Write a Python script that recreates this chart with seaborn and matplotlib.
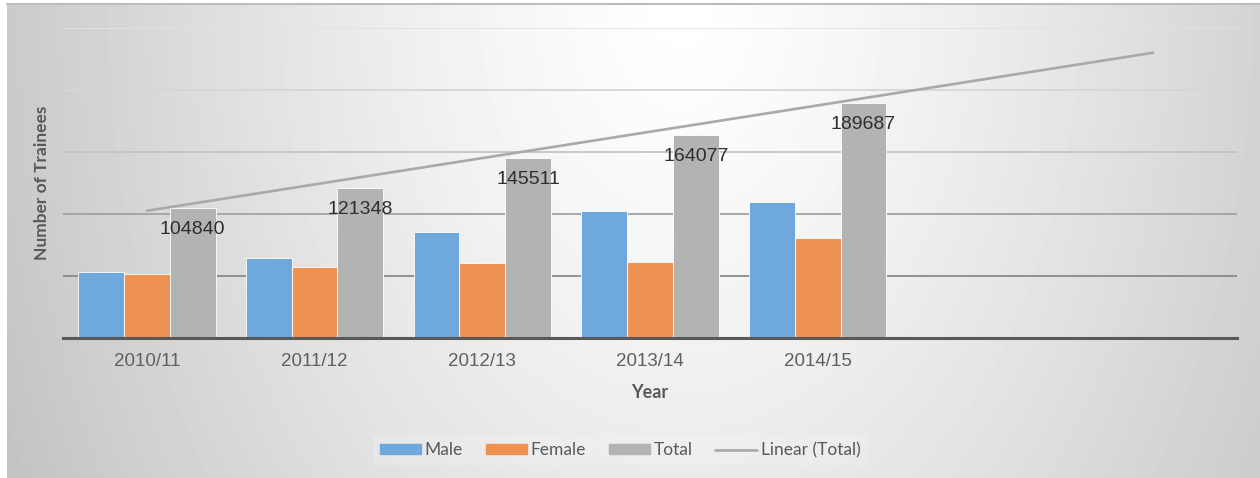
import matplotlib.pyplot as plt
import matplotlib.lines as mlines
import matplotlib.patches as mpatches
import numpy as np
import pandas as pd
import seaborn as sns

# Data
years = ['2010/11', '2011/12', '2012/13', '2013/14', '2014/15']
male = [53000, 64500, 85500, 102400, 109700]
female = [52000, 57000, 60500, 61300, 80600]
total = [104840, 121348, 145511, 164077, 189687]
series = ['Male', 'Female', 'Total']
colors = ['#6FA8DC', '#EF9150', '#B3B3B3']
trend_color = '#A9A9A9'

df = pd.DataFrame({'Year': years, 'Male': male, 'Female': female, 'Total': total})
df_long = df.melt(id_vars='Year', var_name='Series', value_name='Trainees')

sns.set_theme(style='white')
plt.rcParams['font.family'] = ['Liberation Sans', 'DejaVu Sans']

W, H = 1260, 478
fig = plt.figure(figsize=(W / 100, H / 100), dpi=100)

# radial grey gradient behind everything (Excel style chart fill)
xx, yy = np.meshgrid(np.arange(W), np.arange(H))
r = np.sqrt(((xx - 680) / 680) ** 2 + (yy / 1000) ** 2)
shade = np.clip(1 - 0.21 * r ** 1.3, 0, 1)
shade[:3, :] = 1
shade[:, :7] = 1
bg = fig.add_axes([0, 0, 1, 1], zorder=-1)
bg.imshow(shade, cmap='gray', vmin=0, vmax=1, aspect='auto', interpolation='bilinear')
bg.axis('off')
fig.add_artist(mlines.Line2D([7 / W, 1], [1 - 4 / H, 1 - 4 / H], color='#bdbdbd', lw=1.5,
                             transform=fig.transFigure))

ax = fig.add_axes([63 / W, 140 / H, 1174 / W, 310 / H])
ax.patch.set_alpha(0)

sns.barplot(data=df_long, x='Year', y='Trainees', hue='Series', hue_order=series,
            palette=colors, width=0.82, gap=0, saturation=1, errorbar=None,
            edgecolor='white', linewidth=0.6, legend=False, ax=ax)

# Linear trendline on Total, forecast 2 periods forward
xpos = np.arange(len(years))
slope, intercept = np.polyfit(xpos, total, 1)
xfit = np.arange(len(years) + 2)
ax.plot(xfit, slope * xfit + intercept, color=trend_color, lw=1.9, zorder=4)

# data labels inside the end of the Total bars
for bar, v in zip(ax.containers[2], total):
    ax.annotate(f'{v}', (bar.get_x() + bar.get_width() / 2, v), xytext=(0, -15.5),
                textcoords='offset points', ha='center', va='center',
                fontsize=14, color='#2e2e2e', zorder=5)

ax.set_xlim(-0.5, 6.5)
ax.set_ylim(0, 250000)
ax.set_yticks(range(0, 250001, 50000))
ax.set_yticklabels([])
ax.tick_params(axis='y', length=0)
ax.tick_params(axis='x', length=0, pad=11, labelsize=13.5, labelcolor='#606060')

ax.set_axisbelow(True)
ax.yaxis.grid(True)
grid_colors = ['#595959', '#8a8a8a', '#a2a2a2', '#c4c4c4', '#d6d6d6', '#e2e2e2']
for line, c in zip(ax.get_ygridlines(), grid_colors):
    line.set_color(c)
    line.set_linewidth(1.3)

sns.despine(ax=ax, left=True, top=True, right=True)
ax.spines['bottom'].set_color('#595959')
ax.spines['bottom'].set_linewidth(2.2)

ax.set_xlabel('Year', fontsize=13, fontweight='bold', color='#595959',
              family=['Lato', 'DejaVu Sans'], labelpad=10)
ax.set_ylabel('Number of Trainees', fontsize=12.5, fontweight='bold', color='#595959',
              family=['Lato', 'DejaVu Sans'], labelpad=6)

handles = [mpatches.Patch(color=c) for c in colors] + [mlines.Line2D([], [], color=trend_color, lw=1.9)]
labels = series + ['Linear (Total)']
fig.legend(handles, labels, loc='center', bbox_to_anchor=(620 / W, 1 - 450 / H), ncol=4,
           frameon=True, facecolor='#f4f4f4', framealpha=0.3, edgecolor='none', fancybox=False,
           prop={'family': ['Lato', 'DejaVu Sans'], 'size': 12.5}, labelcolor='#595959',
           handlelength=2.4, handleheight=0.5, handletextpad=0.2, columnspacing=1.3)

fig.savefig('out.png', dpi=100)
